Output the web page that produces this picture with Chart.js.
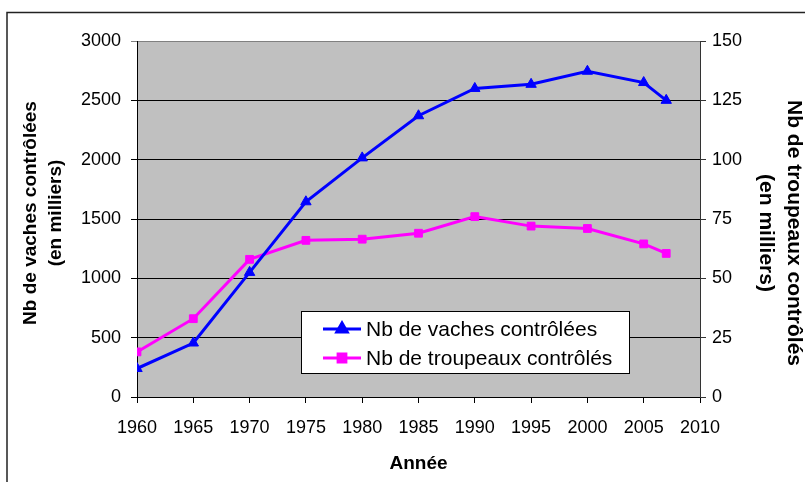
<!DOCTYPE html>
<html>
<head>
<meta charset="utf-8">
<script src="https://cdn.jsdelivr.net/npm/chart.js@4"></script>
<style>
  body { margin: 0; background: #fff; }
  #wrap { width: 805px; height: 482px; }
</style>
</head>
<body>
<div id="wrap"><canvas id="chart" width="805" height="482"></canvas></div>
<script>
const years = [1960, 1965, 1970, 1975, 1980, 1985, 1990, 1995, 2000, 2005, 2007];
const vaches = [240, 455, 1050, 1645, 2015, 2370, 2600, 2635, 2745, 2650, 2500];
const troupeaux = [19, 33, 58, 66, 66.5, 69, 76, 72, 71, 64.5, 60.5];
const seriesLabels = ['Nb de vaches contrôlées', 'Nb de troupeaux contrôlés'];
const leftTitle = ['Nb de vaches contrôlées', '(en milliers)'];
const rightTitle = ['Nb de troupeaux contrôlés', '(en milliers)'];
const xTitle = 'Année';

const FONT = '"Liberation Sans", Arial, sans-serif';

// grey plot area + outer frame
const backgroundPlugin = {
    id: 'background',
    beforeDraw(chart) {
        const { ctx, chartArea: a } = chart;
        ctx.save();
        ctx.fillStyle = '#fff';
        ctx.fillRect(0, 0, chart.width, chart.height);
        ctx.fillStyle = '#c0c0c0';
        ctx.fillRect(a.left, a.top, a.right - a.left, a.bottom - a.top);
        ctx.strokeStyle = '#222';
        ctx.lineWidth = 1.5;
        ctx.strokeRect(7, 12.5, 900, 600);
        ctx.restore();
    }
};

// axis titles, drawn at fixed spots like the original
const titlesPlugin = {
    id: 'titles',
    afterDraw(chart) {
        const { ctx, chartArea: a } = chart;
        ctx.save();
        ctx.fillStyle = '#000';
        ctx.textAlign = 'center';
        ctx.textBaseline = 'middle';

        ctx.font = 'bold 19px ' + FONT;
        ctx.fillText(xTitle, (a.left + a.right) / 2, 464);

        ctx.save();
        ctx.font = 'bold 19px ' + FONT;
        ctx.translate(31, 213);
        ctx.rotate(-Math.PI / 2);
        ctx.fillText(leftTitle[0], 0, 0);
        ctx.fillText(leftTitle[1], 0, 25);
        ctx.restore();

        ctx.save();
        ctx.font = 'bold 21px ' + FONT;
        ctx.translate(794, 233);
        ctx.rotate(Math.PI / 2);
        ctx.fillText(rightTitle[0], 0, 0);
        ctx.fillText(rightTitle[1], 0, 28);
        ctx.restore();

        ctx.restore();
    }
};

// boxed legend sitting inside the plot
const legendBoxPlugin = {
    id: 'legendBox',
    afterDatasetsDraw(chart) {
        const { ctx } = chart;
        const x = 301, y = 311, w = 328, h = 62;
        ctx.save();
        ctx.fillStyle = '#fff';
        ctx.fillRect(x, y, w, h);
        ctx.strokeStyle = '#000';
        ctx.lineWidth = 1;
        ctx.strokeRect(x + 0.5, y + 0.5, w, h);

        chart.data.datasets.forEach((ds, i) => {
            const rowY = 329 + i * 29;
            ctx.strokeStyle = ds.borderColor;
            ctx.lineWidth = ds.borderWidth;
            ctx.beginPath();
            ctx.moveTo(323, rowY);
            ctx.lineTo(361, rowY);
            ctx.stroke();
            ctx.fillStyle = ds.pointBackgroundColor;
            Chart.helpers.drawPoint(ctx, {
                pointStyle: ds.pointStyle,
                radius: ds.pointRadius,
                borderWidth: 1,
                rotation: 0
            }, 342, rowY);
            ctx.fillStyle = '#000';
            ctx.font = '21px ' + FONT;
            ctx.textAlign = 'left';
            ctx.textBaseline = 'middle';
            ctx.fillText(ds.label, 366, rowY + 1);
        });
        ctx.restore();
    }
};

new Chart(document.getElementById('chart'), {
    type: 'line',
    data: {
        datasets: [{
            label: seriesLabels[0],
            data: years.map((yr, i) => ({ x: yr, y: vaches[i] })),
            yAxisID: 'y',
            borderColor: '#0000ff',
            backgroundColor: '#0000ff',
            borderWidth: 3,
            pointStyle: 'triangle',
            pointRadius: 6,
            pointBackgroundColor: '#0000ff',
            pointBorderColor: '#0000ff',
            pointBorderWidth: 1,
            tension: 0
        }, {
            label: seriesLabels[1],
            data: years.map((yr, i) => ({ x: yr, y: troupeaux[i] })),
            yAxisID: 'y2',
            borderColor: '#ff00ff',
            backgroundColor: '#ff00ff',
            borderWidth: 3,
            pointStyle: 'rect',
            pointRadius: 5.5,
            pointBackgroundColor: '#ff00ff',
            pointBorderColor: '#ff00ff',
            pointBorderWidth: 1,
            tension: 0
        }]
    },
    options: {
        responsive: false,
        animation: false,
        devicePixelRatio: 1,
        layout: { padding: { top: 41, left: 0, right: 0, bottom: 0 } },
        plugins: {
            legend: { display: false },
            tooltip: { enabled: false }
        },
        scales: {
            x: {
                type: 'linear',
                min: 1960,
                max: 2010,
                afterFit: (scale) => { scale.height = 85; },
                ticks: {
                    stepSize: 5,
                    color: '#000',
                    padding: 14,
                    maxRotation: 0,
                    autoSkip: false,
                    font: { family: FONT, size: 18 },
                    callback: (v) => String(v)
                },
                grid: { drawOnChartArea: false, drawTicks: true, tickLength: 6, color: '#000' },
                border: { display: true, color: '#000', width: 1 }
            },
            y: {
                position: 'left',
                min: 0,
                max: 3000,
                afterFit: (scale) => { scale.width = 137; },
                ticks: {
                    stepSize: 500,
                    color: '#000',
                    padding: 10,
                    font: { family: FONT, size: 18 },
                    callback: (v) => String(v)
                },
                grid: {
                    drawOnChartArea: true,
                    tickLength: 6,
                    color: (c) => c.tick && c.tick.value === 3000 ? '#808080' : '#000'
                },
                border: { display: true, color: '#000', width: 1 }
            },
            y2: {
                position: 'right',
                min: 0,
                max: 150,
                afterFit: (scale) => { scale.width = 105; },
                ticks: {
                    stepSize: 25,
                    color: '#000',
                    padding: 6,
                    font: { family: FONT, size: 18 },
                    callback: (v) => String(v)
                },
                grid: { drawOnChartArea: false, tickLength: 6, color: '#333' },
                border: { display: true, color: '#333', width: 1 }
            }
        }
    },
    plugins: [backgroundPlugin, titlesPlugin, legendBoxPlugin]
});
</script>
</body>
</html>
